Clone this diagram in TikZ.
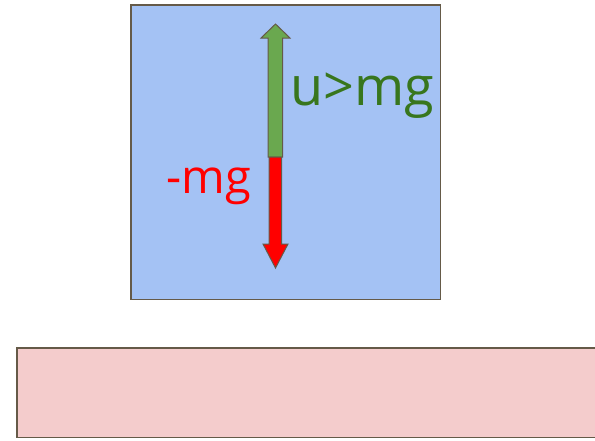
\documentclass[tikz,border=0pt]{standalone}
\usepackage{fontspec}
\setmainfont{Open Sans}
\definecolor{boxblue}{HTML}{A4C2F4}
\definecolor{boxpink}{HTML}{F4CCCC}
\definecolor{edge}{HTML}{655A48}
\definecolor{arrgreen}{HTML}{6AA84F}
\definecolor{txtgreen}{HTML}{38761D}
\definecolor{arrred}{HTML}{FF0000}
\begin{document}
\begin{tikzpicture}[x=1pt,y=-1pt,
  panel/.style={draw=edge,line width=1.2pt},
  forcearrow/.style={draw=edge,line width=1pt,line join=miter},
  label/.style={inner sep=0pt,outer sep=0pt}]
\useasboundingbox (0,0) rectangle (595,440);
% blue block
\path[panel,fill=boxblue] (131,5) rectangle (440.5,299.5);
% pink ground
\path[panel,fill=boxpink] (17,348) rectangle (600,437.5);
% green arrow up
\path[forcearrow,fill=arrgreen] (268,157) -- (268,38) -- (261,38) -- (275.5,24) -- (290,38) -- (282.5,38) -- (282.5,157) -- cycle;
% red arrow down
\path[forcearrow,fill=arrred] (269,157) -- (269,244) -- (263,244) -- (275.5,268) -- (288,244) -- (281.5,244) -- (281.5,157) -- cycle;
\node[label,anchor=base west,text=txtgreen,font=\fontsize{54}{60}\selectfont] (u) at (290,105) {u>mg};
\node[label,anchor=base east,text=arrred,font=\fontsize{47}{52}\selectfont] (m) at (251,193) {-mg};
\end{tikzpicture}
\end{document}
